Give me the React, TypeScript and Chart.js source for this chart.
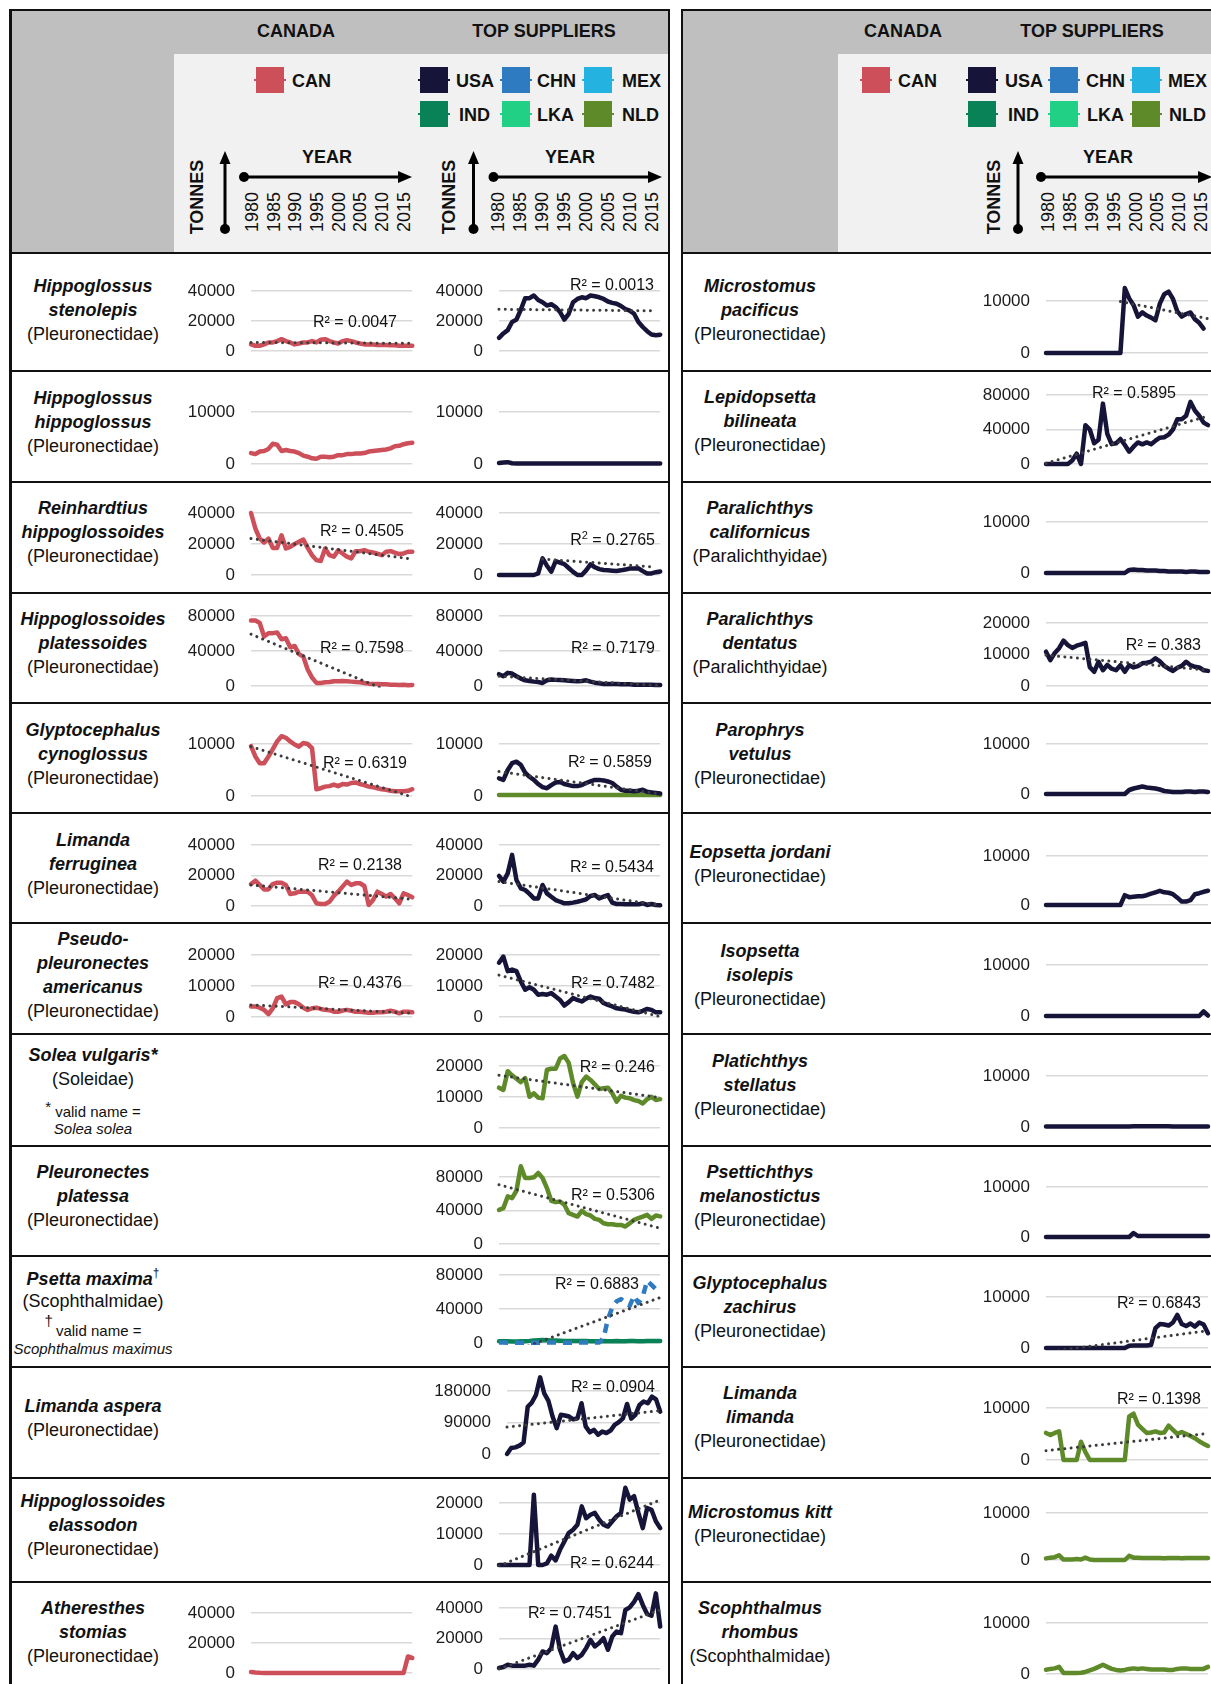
import React, { useEffect, useRef } from "react";
import { Chart, registerables } from "chart.js";

Chart.register(...registerables);

const FONT = '"Liberation Sans", Arial, Helvetica, sans-serif';

// ---------- categories ----------
const YEARS = [
  1980, 1981, 1982, 1983, 1984, 1985, 1986, 1987, 1988, 1989,
  1990, 1991, 1992, 1993, 1994, 1995, 1996, 1997, 1998, 1999,
  2000, 2001, 2002, 2003, 2004, 2005, 2006, 2007, 2008, 2009,
  2010, 2011, 2012, 2013, 2014, 2015, 2016, 2017,
];
const HEADER_YEARS = [1980, 1985, 1990, 1995, 2000, 2005, 2010, 2015];

// ---------- tick labels ----------
const T_0_10 = [0, 10000];
const T_0_10_20 = [0, 10000, 20000];
const T_0_20_40 = [0, 20000, 40000];
const T_0_40_80 = [0, 40000, 80000];
const T_0_90_180 = [0, 90000, 180000];

// ---------- series values (tonnes, 1980-2017) ----------
const HST_CAN = [4400, 3500, 3500, 4400, 5700, 5700, 6600, 7900, 6600, 5700, 4400, 5000, 5700, 5700, 6600, 5700, 7500, 7900, 6600, 5700, 5000, 6600, 7200, 6600, 5700, 5000, 4400, 4400, 4400, 4000, 4000, 4000, 3800, 3800, 3500, 3500, 3500, 3500];
const HST_USA = [8800, 11700, 13900, 19300, 20900, 27500, 35200, 35200, 37000, 34000, 32500, 30300, 31200, 29300, 26000, 20900, 24800, 32500, 34700, 35800, 35200, 37000, 36500, 35800, 34700, 33000, 32100, 31500, 30000, 28000, 26900, 24800, 19300, 16000, 13200, 11000, 10500, 10900];
const HHI_CAN = [2100, 1900, 2400, 2500, 2900, 3900, 3700, 2500, 2700, 2500, 2400, 2100, 1600, 1400, 1100, 1000, 1400, 1400, 1300, 1400, 1700, 1700, 1900, 1900, 2000, 2000, 2100, 2400, 2500, 2600, 2700, 2800, 3000, 3400, 3500, 3800, 4000, 4100];
const HHI_USA = [200, 300, 350, 150, 100, 100, 100, 100, 100, 100, 100, 100, 100, 100, 100, 100, 100, 100, 100, 100, 100, 100, 100, 100, 100, 100, 100, 100, 100, 100, 100, 100, 100, 100, 100, 100, 100, 100];
const RHI_CAN = [40000, 30000, 23500, 21000, 23500, 17500, 17500, 25600, 17100, 18200, 20000, 21400, 22900, 17500, 12800, 9600, 9000, 17100, 12800, 11800, 16000, 13900, 11800, 10700, 15400, 15400, 16000, 15000, 14500, 13700, 12800, 15000, 15400, 14400, 13500, 13900, 15000, 15000];
const RHI_USA = [0, 0, 0, 0, 0, 0, 0, 0, 0, 1000, 10700, 6000, 2100, 9000, 8000, 7000, 4500, 2000, 0, 0, 3000, 6800, 5000, 3800, 3200, 3000, 2800, 2600, 3000, 3500, 4200, 4200, 4300, 2500, 1000, 1000, 1800, 2200];
const HPL_CAN = [75000, 75000, 72000, 56500, 60400, 60400, 61200, 53500, 54600, 44200, 45800, 36500, 33500, 18800, 9600, 3500, 3500, 4200, 4600, 5400, 5400, 5800, 5400, 5000, 4600, 4200, 3500, 2700, 2300, 2300, 1900, 1900, 1500, 1500, 1200, 1500, 800, 1200];
const HPL_USA = [13500, 11200, 15000, 14200, 11200, 8500, 6500, 5800, 5000, 4600, 3500, 6500, 7500, 7000, 6800, 6500, 6100, 5800, 5400, 5800, 6500, 5000, 3800, 3100, 2300, 2300, 2300, 2300, 1900, 1900, 1900, 1500, 1500, 1500, 1500, 1500, 1200, 1200];
const GCY_CAN = [9600, 7600, 6300, 6300, 7600, 9000, 10500, 11500, 11200, 10500, 9900, 9500, 10200, 10000, 9200, 1300, 1500, 1800, 1900, 2200, 1900, 2300, 2200, 2500, 2600, 2300, 2100, 1800, 1700, 1500, 1300, 1200, 1000, 900, 900, 900, 1000, 1300];
const GCY_USA = [3400, 3100, 5000, 6300, 6600, 6000, 4500, 3700, 3100, 2300, 1700, 1500, 2100, 2600, 2700, 2300, 2100, 1900, 1900, 2100, 2500, 2800, 3100, 3100, 3000, 2800, 2500, 1800, 1200, 1000, 1000, 900, 1000, 1200, 800, 700, 600, 500];
const GCY_NLD = [200, 200, 200, 200, 200, 200, 200, 200, 200, 200, 200, 200, 200, 200, 200, 200, 200, 200, 200, 200, 200, 200, 200, 200, 200, 200, 200, 200, 200, 200, 200, 200, 200, 200, 200, 200, 200, 200];
const LFE_CAN = [14400, 16600, 13800, 10900, 10900, 14400, 15300, 15300, 13800, 7900, 8300, 9400, 9400, 9400, 7000, 1800, 1300, 1300, 2800, 6600, 9400, 12700, 16000, 13800, 14900, 14900, 13100, 700, 3900, 9400, 7900, 6100, 7900, 5000, 1800, 8300, 7200, 5700];
const LFE_USA = [19700, 16000, 21400, 33500, 17100, 11600, 10500, 7900, 5000, 5000, 13800, 8300, 6100, 3900, 2800, 1800, 1800, 2200, 2800, 3500, 4400, 6600, 7200, 5000, 6100, 7200, 2200, 1300, 1300, 1100, 1100, 1100, 1100, 1800, 700, 1300, 700, 500];
const PAM_CAN = [3400, 3400, 3000, 2300, 900, 2800, 6100, 6600, 4100, 4800, 4800, 4100, 3000, 2300, 2800, 3000, 2600, 2300, 2200, 1700, 1700, 2100, 2300, 2000, 1700, 1700, 1500, 1400, 1400, 1500, 1500, 1700, 2000, 1700, 1200, 1700, 1700, 1500];
const PAM_USA = [17500, 19500, 14800, 15300, 14800, 11500, 8800, 9600, 8800, 7200, 7400, 7200, 7700, 6600, 5500, 3700, 4800, 6100, 5500, 5000, 5900, 6600, 6100, 5900, 4500, 3900, 3400, 2800, 2600, 2400, 2000, 1700, 1500, 2000, 2600, 2300, 1500, 1500];
const SVU_NLD = [13000, 12300, 18300, 17000, 15900, 14800, 16100, 10100, 11200, 9800, 9600, 18800, 19100, 19100, 22400, 23200, 21000, 14500, 10100, 14800, 16600, 15500, 14100, 12600, 12800, 13000, 11200, 8500, 10400, 9800, 9600, 9000, 8700, 7900, 9300, 10100, 9000, 9300];
const PPL_NLD = [40800, 42800, 56800, 54800, 63600, 92800, 78800, 78800, 79600, 84800, 78800, 66800, 51600, 50000, 50800, 46800, 36800, 34800, 32800, 39600, 35600, 34000, 30000, 28800, 24800, 23600, 23600, 22800, 22800, 20800, 24800, 28800, 30800, 32800, 34800, 30000, 34000, 33000];
const PMA_CHN = [500, 500, 400, 400, 300, 300, 300, 300, 400, 400, 400, 500, 500, 500, 500, 400, 400, 400, 500, 500, 500, 500, 500, 500, 6000, 28000, 42000, 49000, 51600, 47600, 43700, 55500, 46900, 54700, 73400, 68400, 63300, 58600];
const PMA_IND = [2000, 2200, 2000, 1800, 1800, 2000, 2200, 2500, 3000, 3200, 3500, 3200, 3000, 2800, 2600, 2500, 2500, 2400, 2400, 2300, 2300, 2200, 2200, 2200, 2300, 2200, 2200, 2300, 2200, 2200, 2300, 2300, 2200, 2200, 2300, 2300, 2400, 2400];
const LAS_USA = [0, 17000, 19000, 24000, 33000, 135000, 147000, 169000, 219000, 173000, 152000, 107000, 74000, 112000, 110000, 107000, 99000, 102000, 145000, 79000, 62000, 69000, 55000, 64000, 60000, 67000, 83000, 91000, 102000, 143000, 101000, 112000, 140000, 150000, 145000, 164000, 156000, 121000];
const HEL_USA = [0, 0, 0, 0, 0, 0, 0, 0, 22700, 0, 0, 500, 3000, 1500, 4900, 7600, 10300, 11400, 13000, 18900, 15100, 16200, 16800, 14600, 13000, 12400, 14100, 15700, 16800, 24900, 21100, 22200, 16800, 11900, 18400, 17800, 14100, 11900];
const AST_CAN = [700, 300, 100, 0, 0, 0, 0, 0, 0, 0, 0, 0, 0, 0, 0, 0, 0, 0, 0, 0, 0, 0, 0, 0, 0, 0, 0, 0, 0, 0, 0, 0, 0, 0, 0, 0, 11000, 10000];
const AST_USA = [700, 1300, 2800, 2200, 2200, 2200, 2200, 2800, 2200, 6100, 11500, 10400, 13700, 27800, 12600, 5000, 6100, 10400, 7200, 9300, 13700, 19100, 14800, 17000, 20200, 12600, 21300, 24600, 23500, 38700, 40400, 44000, 49100, 42000, 36100, 35000, 49600, 27800];

const MPA_USA = [0, 0, 0, 0, 0, 0, 0, 0, 0, 0, 0, 0, 0, 0, 0, 0, 0, 0, 12500, 10500, 9200, 7000, 7800, 7200, 6800, 6300, 9500, 11300, 11800, 10400, 8000, 7000, 7500, 7800, 6500, 5800, 4700, null];
const LBI_USA = [0, 0, 0, 0, 0, 0, 4000, 12000, 0, 45000, 40000, 24000, 28000, 70000, 35000, 23000, 24000, 29000, 22000, 14300, 20100, 25000, 22800, 25000, 23000, 27000, 30500, 31000, 34000, 40000, 52000, 52000, 56000, 72000, 62000, 56000, 48000, 45000];
const PCA_USA = [0, 0, 0, 0, 0, 0, 0, 0, 0, 0, 0, 0, 0, 0, 0, 0, 0, 0, 0, 600, 700, 600, 600, 500, 500, 500, 400, 400, 300, 300, 300, 300, 200, 300, 300, 200, 200, 200];
const PDE_USA = [10900, 8200, 10500, 12000, 14400, 13000, 12100, 12800, 13200, 13700, 6000, 4500, 7700, 5000, 6700, 5500, 5000, 6600, 4500, 6600, 5900, 6300, 7200, 7400, 7700, 8800, 7800, 6400, 5500, 4800, 5800, 6400, 7700, 6600, 6100, 5900, 5000, 4800];
const PVE_USA = [0, 0, 0, 0, 0, 0, 0, 0, 0, 0, 0, 0, 0, 0, 0, 0, 0, 0, 0, 800, 1100, 1300, 1500, 1300, 1200, 1100, 900, 600, 500, 400, 400, 400, 500, 500, 400, 500, 500, 400];
const EJO_USA = [0, 0, 0, 0, 0, 0, 0, 0, 0, 0, 0, 0, 0, 0, 0, 0, 0, 0, 2000, 1600, 1700, 1800, 1800, 2000, 2300, 2600, 2900, 2600, 2500, 2200, 1500, 700, 700, 1000, 2200, 2400, 2700, 2900];
const IIS_USA = [0, 0, 0, 0, 0, 0, 0, 0, 0, 0, 0, 0, 0, 0, 0, 0, 0, 0, 0, 0, 0, 0, 0, 0, 0, 0, 0, 0, 0, 0, 0, 0, 0, 0, 0, 0, 900, 100];
const PST_USA = [100, 100, 100, 100, 100, 100, 100, 100, 100, 100, 100, 100, 100, 100, 100, 100, 100, 100, 100, 100, 150, 150, 150, 150, 150, 150, 150, 150, 150, 100, 100, 100, 100, 100, 100, 100, 100, 100];
const PME_USA = [0, 0, 0, 0, 0, 0, 0, 0, 0, 0, 0, 0, 0, 0, 0, 0, 0, 0, 0, 0, 800, 200, 200, 200, 200, 200, 200, 200, 200, 200, 200, 200, 200, 200, 200, 200, 200, 200];
const GZA_USA = [0, 0, 0, 0, 0, 0, 0, 0, 0, 0, 0, 0, 0, 0, 0, 0, 0, 0, 0, 450, 500, 500, 500, 500, 600, 3900, 4700, 4600, 4400, 5000, 6500, 4700, 4300, 4800, 4200, 5000, 4600, 2900];
const LLI_NLD = [5200, 4800, 5200, 5500, 0, 0, 0, 0, 3500, 1500, 0, 0, 0, 0, 0, 0, 0, 0, 0, 8400, 8900, 6800, 6000, 5200, 5300, 5500, 5200, 5300, 6600, 5800, 5000, 5400, 5000, 4600, 4200, 3600, 3100, 2700];
const MKI_NLD = [350, 500, 600, 1000, 100, 100, 100, 200, 100, 500, 100, 0, 0, 0, 0, 0, 0, 0, 0, 900, 500, 500, 450, 450, 400, 450, 400, 350, 400, 450, 450, 350, 400, 450, 450, 400, 450, 400];
const SRH_NLD = [850, 1000, 1100, 1400, 200, 200, 200, 200, 250, 400, 700, 1000, 1400, 1800, 1400, 1000, 800, 700, 800, 1000, 1100, 1000, 1100, 1000, 900, 900, 900, 900, 800, 800, 1000, 1100, 1100, 1000, 1000, 1000, 1000, 1400];

// ---------- linear trend lines (year, tonnes) ----------
type Pt = [number, number];
const HST_CAN_TREND: Pt[] = [[1980, 5700], [2017, 5100]];
const HST_USA_TREND: Pt[] = [[1980, 27800], [2016, 26800]];
const RHI_CAN_TREND: Pt[] = [[1980, 23500], [2017, 10300]];
const RHI_USA_TREND: Pt[] = [[1990, 10300], [2016, 5100]];
const HPL_CAN_TREND: Pt[] = [[1980, 59200], [2017, -17100]];
const HPL_USA_TREND: Pt[] = [[1980, 11200], [2017, 500]];
const GCY_CAN_TREND: Pt[] = [[1980, 9500], [2017, -200]];
const GCY_USA_TREND: Pt[] = [[1980, 4700], [2017, 400]];
const LFE_CAN_TREND: Pt[] = [[1980, 13800], [2017, 4400]];
const LFE_USA_TREND: Pt[] = [[1980, 16000], [2017, 500]];
const PAM_CAN_TREND: Pt[] = [[1980, 3900], [2017, 1200]];
const PAM_USA_TREND: Pt[] = [[1980, 13500], [2017, 100]];
const SVU_NLD_TREND: Pt[] = [[1980, 17000], [2017, 9800]];
const PPL_NLD_TREND: Pt[] = [[1980, 70800], [2017, 18800]];
const PMA_CHN_TREND: Pt[] = [[1980, -16000], [2017, 53500]];
const LAS_USA_TREND: Pt[] = [[1980, 77000], [2017, 124000]];
const HEL_USA_TREND: Pt[] = [[1980, -300], [2017, 21000]];
const AST_USA_TREND: Pt[] = [[1980, 0], [2017, 38700]];
const MPA_USA_TREND: Pt[] = [[1997, 9900], [2017, 6600]];
const LBI_USA_TREND: Pt[] = [[1980, 800], [2017, 55600]];
const PDE_USA_TREND: Pt[] = [[1980, 9800], [2017, 5000]];
const GZA_USA_TREND: Pt[] = [[1980, -800], [2017, 3400]];
const LLI_NLD_TREND: Pt[] = [[1980, 1800], [2017, 5100]];

// ---------- colours ----------
const C_CAN = "#cd4f5a";
const C_USA = "#17143a";
const C_CHN = "#2e7bc1";
const C_MEX = "#24b3e0";
const C_IND = "#0a8257";
const C_LKA = "#21cf85";
const C_NLD = "#5e8a29";

// ---------- layout ----------
const ROW_TOPS = [253, 371, 482, 593, 703, 813, 923, 1034, 1146, 1256, 1367, 1478, 1582];
const L_CAN_X: [number, number] = [251, 412.3];
const L_TOP_X: [number, number] = [499, 660.2];
const L_TOP_WIDE_X: [number, number] = [507, 660.2];
const R_X: [number, number] = [1046, 1208];
const LABEL_W = 80;

interface Line { data: (number | null)[]; color: string; dashed?: boolean }
interface Spec {
  id: string; row: number; x: [number, number];
  zeroY: number; topY: number; topVal: number; ticks: number[];
  lines: Line[]; trend?: Pt[];
  r2?: string; r2R?: number; r2Y?: number; r2Sup?: boolean;
}

const SPECS: Spec[] = [
  { id: "hst-can", row: 0, x: L_CAN_X, zeroY: 351, topY: 291, topVal: 40000, ticks: T_0_20_40, lines: [{ data: HST_CAN, color: C_CAN }], trend: HST_CAN_TREND, r2: "0.0047", r2R: 397, r2Y: 322 },
  { id: "hst-top", row: 0, x: L_TOP_X, zeroY: 351, topY: 291, topVal: 40000, ticks: T_0_20_40, lines: [{ data: HST_USA, color: C_USA }], trend: HST_USA_TREND, r2: "0.0013", r2R: 654, r2Y: 285 },
  { id: "hhi-can", row: 1, x: L_CAN_X, zeroY: 464, topY: 412, topVal: 10000, ticks: T_0_10, lines: [{ data: HHI_CAN, color: C_CAN }] },
  { id: "hhi-top", row: 1, x: L_TOP_X, zeroY: 464, topY: 412, topVal: 10000, ticks: T_0_10, lines: [{ data: HHI_USA, color: C_USA }] },
  { id: "rhi-can", row: 2, x: L_CAN_X, zeroY: 575, topY: 513, topVal: 40000, ticks: T_0_20_40, lines: [{ data: RHI_CAN, color: C_CAN }], trend: RHI_CAN_TREND, r2: "0.4505", r2R: 404, r2Y: 531 },
  { id: "rhi-top", row: 2, x: L_TOP_X, zeroY: 575, topY: 513, topVal: 40000, ticks: T_0_20_40, lines: [{ data: RHI_USA, color: C_USA }], trend: RHI_USA_TREND, r2: "0.2765", r2R: 655, r2Y: 540, r2Sup: true },
  { id: "hpl-can", row: 3, x: L_CAN_X, zeroY: 686, topY: 616, topVal: 80000, ticks: T_0_40_80, lines: [{ data: HPL_CAN, color: C_CAN }], trend: HPL_CAN_TREND, r2: "0.7598", r2R: 404, r2Y: 648 },
  { id: "hpl-top", row: 3, x: L_TOP_X, zeroY: 686, topY: 616, topVal: 80000, ticks: T_0_40_80, lines: [{ data: HPL_USA, color: C_USA }], trend: HPL_USA_TREND, r2: "0.7179", r2R: 655, r2Y: 648 },
  { id: "gcy-can", row: 4, x: L_CAN_X, zeroY: 796, topY: 744, topVal: 10000, ticks: T_0_10, lines: [{ data: GCY_CAN, color: C_CAN }], trend: GCY_CAN_TREND, r2: "0.6319", r2R: 407, r2Y: 763 },
  { id: "gcy-top", row: 4, x: L_TOP_X, zeroY: 796, topY: 744, topVal: 10000, ticks: T_0_10, lines: [{ data: GCY_NLD, color: C_NLD }, { data: GCY_USA, color: C_USA }], trend: GCY_USA_TREND, r2: "0.5859", r2R: 652, r2Y: 762 },
  { id: "lfe-can", row: 5, x: L_CAN_X, zeroY: 906, topY: 845, topVal: 40000, ticks: T_0_20_40, lines: [{ data: LFE_CAN, color: C_CAN }], trend: LFE_CAN_TREND, r2: "0.2138", r2R: 402, r2Y: 865 },
  { id: "lfe-top", row: 5, x: L_TOP_X, zeroY: 906, topY: 845, topVal: 40000, ticks: T_0_20_40, lines: [{ data: LFE_USA, color: C_USA }], trend: LFE_USA_TREND, r2: "0.5434", r2R: 654, r2Y: 867 },
  { id: "pam-can", row: 6, x: L_CAN_X, zeroY: 1017, topY: 955, topVal: 20000, ticks: T_0_10_20, lines: [{ data: PAM_CAN, color: C_CAN }], trend: PAM_CAN_TREND, r2: "0.4376", r2R: 402, r2Y: 983 },
  { id: "pam-top", row: 6, x: L_TOP_X, zeroY: 1017, topY: 955, topVal: 20000, ticks: T_0_10_20, lines: [{ data: PAM_USA, color: C_USA }], trend: PAM_USA_TREND, r2: "0.7482", r2R: 655, r2Y: 983 },
  { id: "svu-top", row: 7, x: L_TOP_X, zeroY: 1128, topY: 1066, topVal: 20000, ticks: T_0_10_20, lines: [{ data: SVU_NLD, color: C_NLD }], trend: SVU_NLD_TREND, r2: "0.246", r2R: 655, r2Y: 1067 },
  { id: "ppl-top", row: 8, x: L_TOP_X, zeroY: 1244, topY: 1177, topVal: 80000, ticks: T_0_40_80, lines: [{ data: PPL_NLD, color: C_NLD }], trend: PPL_NLD_TREND, r2: "0.5306", r2R: 655, r2Y: 1195 },
  { id: "pma-top", row: 9, x: L_TOP_X, zeroY: 1343, topY: 1275, topVal: 80000, ticks: T_0_40_80, lines: [{ data: PMA_IND, color: C_IND }, { data: PMA_CHN, color: C_CHN, dashed: true }], trend: PMA_CHN_TREND, r2: "0.6883", r2R: 639, r2Y: 1284 },
  { id: "las-top", row: 10, x: L_TOP_WIDE_X, zeroY: 1454, topY: 1391, topVal: 180000, ticks: T_0_90_180, lines: [{ data: LAS_USA, color: C_USA }], trend: LAS_USA_TREND, r2: "0.0904", r2R: 655, r2Y: 1387 },
  { id: "hel-top", row: 11, x: L_TOP_X, zeroY: 1565, topY: 1503, topVal: 20000, ticks: T_0_10_20, lines: [{ data: HEL_USA, color: C_USA }], trend: HEL_USA_TREND, r2: "0.6244", r2R: 654, r2Y: 1563 },
  { id: "ast-can", row: 12, x: L_CAN_X, zeroY: 1673, topY: 1613, topVal: 40000, ticks: T_0_20_40, lines: [{ data: AST_CAN, color: C_CAN }] },
  { id: "ast-top", row: 12, x: L_TOP_X, zeroY: 1669, topY: 1608, topVal: 40000, ticks: T_0_20_40, lines: [{ data: AST_USA, color: C_USA }], trend: AST_USA_TREND, r2: "0.7451", r2R: 612, r2Y: 1613 },

  { id: "mpa", row: 0, x: R_X, zeroY: 353, topY: 301, topVal: 10000, ticks: T_0_10, lines: [{ data: MPA_USA, color: C_USA }], trend: MPA_USA_TREND },
  { id: "lbi", row: 1, x: R_X, zeroY: 464, topY: 395, topVal: 80000, ticks: T_0_40_80, lines: [{ data: LBI_USA, color: C_USA }], trend: LBI_USA_TREND, r2: "0.5895", r2R: 1176, r2Y: 393 },
  { id: "pca", row: 2, x: R_X, zeroY: 573, topY: 522, topVal: 10000, ticks: T_0_10, lines: [{ data: PCA_USA, color: C_USA }] },
  { id: "pde", row: 3, x: R_X, zeroY: 686, topY: 623, topVal: 20000, ticks: T_0_10_20, lines: [{ data: PDE_USA, color: C_USA }], trend: PDE_USA_TREND, r2: "0.383", r2R: 1201, r2Y: 645 },
  { id: "pve", row: 4, x: R_X, zeroY: 794, topY: 744, topVal: 10000, ticks: T_0_10, lines: [{ data: PVE_USA, color: C_USA }] },
  { id: "ejo", row: 5, x: R_X, zeroY: 905, topY: 856, topVal: 10000, ticks: T_0_10, lines: [{ data: EJO_USA, color: C_USA }] },
  { id: "iis", row: 6, x: R_X, zeroY: 1016, topY: 965, topVal: 10000, ticks: T_0_10, lines: [{ data: IIS_USA, color: C_USA }] },
  { id: "pst", row: 7, x: R_X, zeroY: 1127, topY: 1076, topVal: 10000, ticks: T_0_10, lines: [{ data: PST_USA, color: C_USA }] },
  { id: "pme", row: 8, x: R_X, zeroY: 1237, topY: 1187, topVal: 10000, ticks: T_0_10, lines: [{ data: PME_USA, color: C_USA }] },
  { id: "gza", row: 9, x: R_X, zeroY: 1348, topY: 1297, topVal: 10000, ticks: T_0_10, lines: [{ data: GZA_USA, color: C_USA }], trend: GZA_USA_TREND, r2: "0.6843", r2R: 1201, r2Y: 1303 },
  { id: "lli", row: 10, x: R_X, zeroY: 1460, topY: 1408, topVal: 10000, ticks: T_0_10, lines: [{ data: LLI_NLD, color: C_NLD }], trend: LLI_NLD_TREND, r2: "0.1398", r2R: 1201, r2Y: 1399 },
  { id: "mki", row: 11, x: R_X, zeroY: 1560, topY: 1513, topVal: 10000, ticks: T_0_10, lines: [{ data: MKI_NLD, color: C_NLD }] },
  { id: "srh", row: 12, x: R_X, zeroY: 1674, topY: 1623, topVal: 10000, ticks: T_0_10, lines: [{ data: SRH_NLD, color: C_NLD }] },
];

type LabelRow = { cy: number; lines: [string, "n" | "f"][] };
const FAM_P = "(Pleuronectidae)";
const LEFT_LABELS: (LabelRow | null)[] = [
  { cy: 310, lines: [["Hippoglossus", "n"], ["stenolepis", "n"], [FAM_P, "f"]] },
  { cy: 422, lines: [["Hippoglossus", "n"], ["hippoglossus", "n"], [FAM_P, "f"]] },
  { cy: 532, lines: [["Reinhardtius", "n"], ["hippoglossoides", "n"], [FAM_P, "f"]] },
  { cy: 643, lines: [["Hippoglossoides", "n"], ["platessoides", "n"], [FAM_P, "f"]] },
  { cy: 754, lines: [["Glyptocephalus", "n"], ["cynoglossus", "n"], [FAM_P, "f"]] },
  { cy: 864, lines: [["Limanda", "n"], ["ferruginea", "n"], [FAM_P, "f"]] },
  { cy: 975, lines: [["Pseudo-", "n"], ["pleuronectes", "n"], ["americanus", "n"], [FAM_P, "f"]] },
  null,
  { cy: 1196, lines: [["Pleuronectes", "n"], ["platessa", "n"], [FAM_P, "f"]] },
  null,
  { cy: 1418, lines: [["Limanda aspera", "n"], [FAM_P, "f"]] },
  { cy: 1525, lines: [["Hippoglossoides", "n"], ["elassodon", "n"], [FAM_P, "f"]] },
  { cy: 1632, lines: [["Atheresthes", "n"], ["stomias", "n"], [FAM_P, "f"]] },
];
const RIGHT_LABELS: LabelRow[] = [
  { cy: 310, lines: [["Microstomus", "n"], ["pacificus", "n"], [FAM_P, "f"]] },
  { cy: 421, lines: [["Lepidopsetta", "n"], ["bilineata", "n"], [FAM_P, "f"]] },
  { cy: 532, lines: [["Paralichthys", "n"], ["californicus", "n"], ["(Paralichthyidae)", "f"]] },
  { cy: 643, lines: [["Paralichthys", "n"], ["dentatus", "n"], ["(Paralichthyidae)", "f"]] },
  { cy: 754, lines: [["Parophrys", "n"], ["vetulus", "n"], [FAM_P, "f"]] },
  { cy: 864, lines: [["Eopsetta jordani", "n"], [FAM_P, "f"]] },
  { cy: 975, lines: [["Isopsetta", "n"], ["isolepis", "n"], [FAM_P, "f"]] },
  { cy: 1085, lines: [["Platichthys", "n"], ["stellatus", "n"], [FAM_P, "f"]] },
  { cy: 1196, lines: [["Psettichthys", "n"], ["melanostictus", "n"], [FAM_P, "f"]] },
  { cy: 1307, lines: [["Glyptocephalus", "n"], ["zachirus", "n"], [FAM_P, "f"]] },
  { cy: 1417, lines: [["Limanda", "n"], ["limanda", "n"], [FAM_P, "f"]] },
  { cy: 1524, lines: [["Microstomus kitt", "n"], [FAM_P, "f"]] },
  { cy: 1632, lines: [["Scophthalmus", "n"], ["rhombus", "n"], ["(Scophthalmidae)", "f"]] },
];

// ---------- chart component ----------
function MiniChart({ s }: { s: Spec }) {
  const ref = useRef<HTMLCanvasElement | null>(null);
  const rowTop = ROW_TOPS[s.row];
  const rowBottom = s.row + 1 < ROW_TOPS.length ? ROW_TOPS[s.row + 1] : 1700;
  const plotLeft = Math.round(s.x[0]);
  const cLeft = plotLeft - LABEL_W;
  const W = Math.ceil(s.x[1] + 6 - cLeft);
  const cTop = rowTop + 3;
  const cBottom = rowBottom - 2;
  const H = cBottom - cTop;

  useEffect(() => {
    const el = ref.current;
    if (!el) return;
    const areaTop = rowTop + 8;
    const yMax = (s.topVal * (s.zeroY - areaTop)) / (s.zeroY - s.topY);
    const datasets: any[] = [];
    if (s.trend) {
      datasets.push({
        data: s.trend.map(([x, y]) => ({ x, y })),
        borderColor: "#3c3c3c",
        borderWidth: 3,
        borderDash: [0.01, 6.3],
        borderCapStyle: "round",
        pointRadius: 0,
        tension: 0,
        clip: { left: 2, right: 2, top: 2, bottom: 1.5 },
      });
    }
    [...s.lines].reverse().forEach((l) => {
      datasets.push({
        data: l.data.map((v, i) => ({ x: YEARS[i], y: v })),
        borderColor: l.color,
        borderWidth: 4.5,
        borderDash: l.dashed ? [9, 7] : [],
        borderCapStyle: l.dashed ? "butt" : "round",
        borderJoinStyle: "round",
        pointRadius: 0,
        tension: 0,
        spanGaps: false,
        clip: false,
      });
    });
    const chart = new Chart(el, {
      type: "line",
      data: { datasets },
      options: {
        animation: false,
        responsive: false,
        devicePixelRatio: 1,
        events: [],
        layout: {
          padding: {
            left: 0,
            right: W - (s.x[1] - cLeft),
            top: areaTop - cTop,
            bottom: cBottom - s.zeroY,
          },
        },
        plugins: { legend: { display: false }, tooltip: { enabled: false } },
        scales: {
          x: { type: "linear", min: 1980, max: 2017, display: false },
          y: {
            type: "linear",
            min: 0,
            max: yMax,
            afterBuildTicks: (sc: any) => {
              sc.ticks = s.ticks.map((v) => ({ value: v }));
            },
            afterFit: (sc: any) => {
              sc.width = LABEL_W;
              sc.paddingTop = 0;
              sc.paddingBottom = 0;
            },
            ticks: {
              padding: 16,
              autoSkip: false,
              color: "#1c1c1c",
              font: { family: FONT, size: 17 },
              callback: (v: any) => String(v),
            },
            grid: { color: "#d9d9d9", lineWidth: 1.6, drawTicks: false },
            border: { display: false },
          },
        },
      } as any,
    });
    return () => chart.destroy();
  }, []);

  return (
    <canvas
      ref={ref}
      width={W}
      height={H}
      style={{ position: "absolute", left: cLeft, top: cTop, width: W, height: H }}
    />
  );
}

// ---------- small helpers ----------
function Box({ l, t, w, h, bg }: { l: number; t: number; w: number; h: number; bg: string }) {
  return <div style={{ position: "absolute", left: l, top: t, width: w, height: h, background: bg }} />;
}

function CText({ cx, cy, size, bold, italic, children, w = 260 }: any) {
  return (
    <div
      style={{
        position: "absolute",
        left: cx - w / 2,
        width: w,
        top: cy - 12,
        height: 24,
        lineHeight: "24px",
        textAlign: "center",
        fontSize: size,
        fontWeight: bold ? 700 : 400,
        fontStyle: italic ? "italic" : "normal",
        whiteSpace: "nowrap",
        color: "#111",
      }}
    >
      {children}
    </div>
  );
}

function RotText({ cx, cy, size, bold, children }: any) {
  return (
    <div
      style={{
        position: "absolute",
        left: cx - 50,
        top: cy - 11,
        width: 100,
        height: 22,
        lineHeight: "22px",
        textAlign: "center",
        fontSize: size,
        fontWeight: bold ? 700 : 400,
        transform: "rotate(-90deg)",
        whiteSpace: "nowrap",
        color: "#111",
      }}
    >
      {children}
    </div>
  );
}

function LegendItem({ sx, sy, tx, color, label }: any) {
  return (
    <>
      <div style={{ position: "absolute", left: sx - 2, top: sy + 12, width: 32, height: 2, background: color }} />
      <div style={{ position: "absolute", left: sx, top: sy, width: 28, height: 26, background: color }} />
      <div
        style={{
          position: "absolute",
          left: tx,
          top: sy + 1,
          height: 26,
          lineHeight: "26px",
          fontSize: 18,
          fontWeight: 700,
          whiteSpace: "nowrap",
          color: "#111",
        }}
      >
        {label}
      </div>
    </>
  );
}

function Labels({ cx, rows }: { cx: number; rows: (LabelRow | null)[] }) {
  const out: React.ReactNode[] = [];
  rows.forEach((r, i) => {
    if (!r) return;
    const n = r.lines.length;
    r.lines.forEach(([t, k], j) => {
      out.push(
        <CText key={i + "-" + j} cx={cx} cy={r.cy + (j - (n - 1) / 2) * 24} size={18} bold={k === "n"} italic={k === "n"}>
          {t}
        </CText>
      );
    });
  });
  return <>{out}</>;
}

function R2Label({ s }: { s: Spec }) {
  if (!s.r2 || s.r2R === undefined || s.r2Y === undefined) return null;
  return (
    <div
      style={{
        position: "absolute",
        left: s.r2R - 200,
        width: 200,
        top: s.r2Y - 10,
        height: 20,
        lineHeight: "20px",
        textAlign: "right",
        fontSize: 16,
        whiteSpace: "nowrap",
        color: "#111",
      }}
    >
      {s.r2Sup ? (
        <>
          R<span style={{ fontSize: 11, position: "relative", top: -6 }}>2</span> = {s.r2}
        </>
      ) : (
        <>R² = {s.r2}</>
      )}
    </div>
  );
}

function AxisGlyph({ vx, hx0, hx1, yearStart, yearStep, yearCx, tonCx }: any) {
  return (
    <>
      <RotText cx={tonCx} cy={197} size={18} bold>
        TONNES
      </RotText>
      <CText cx={yearCx} cy={157} size={18} bold>
        YEAR
      </CText>
      {HEADER_YEARS.map((y, i) => (
        <RotText key={y} cx={yearStart + i * yearStep} cy={212} size={18}>
          {String(y)}
        </RotText>
      ))}
      <svg style={{ position: "absolute", left: 0, top: 0, overflow: "visible" }} width={1} height={1}>
        <line x1={vx} y1={229} x2={vx} y2={160} stroke="#000" strokeWidth={3} />
        <polygon points={`${vx},151 ${vx - 5.5},164 ${vx + 5.5},164`} fill="#000" />
        <circle cx={vx} cy={229} r={5} fill="#000" />
        <circle cx={hx0} cy={177} r={5} fill="#000" />
        <line x1={hx0} y1={177} x2={hx1 - 10} y2={177} stroke="#000" strokeWidth={3} />
        <polygon points={`${hx1},177 ${hx1 - 14},171 ${hx1 - 14},183`} fill="#000" />
      </svg>
    </>
  );
}

export default function App() {
  const leftSpecs = SPECS;
  return (
    <div
      style={{
        position: "fixed",
        left: 0,
        top: 0,
        width: 1211,
        height: 1684,
        overflow: "hidden",
        background: "#ffffff",
        fontFamily: FONT,
        color: "#111",
      }}
    >
      {/* header backgrounds */}
      <Box l={9} t={9} w={661} h={244} bg="#bfbfbf" />
      <Box l={174} t={54} w={495} h={199} bg="#f1f1f1" />
      <Box l={681} t={9} w={540} h={244} bg="#bfbfbf" />
      <Box l={838} t={54} w={380} h={199} bg="#f1f1f1" />

      {/* panel borders */}
      <Box l={9} t={9} w={661} h={2} bg="#111" />
      <Box l={9} t={9} w={3} h={1700} bg="#111" />
      <Box l={668} t={9} w={2} h={1700} bg="#111" />
      <Box l={681} t={9} w={540} h={2} bg="#111" />
      <Box l={681} t={9} w={2} h={1700} bg="#111" />
      {ROW_TOPS.map((y) => (
        <React.Fragment key={y}>
          <Box l={9} t={y - 1} w={661} h={2} bg="#111" />
          <Box l={681} t={y - 1} w={540} h={2} bg="#111" />
        </React.Fragment>
      ))}

      {/* header titles */}
      <CText cx={296} cy={31} size={18} bold>CANADA</CText>
      <CText cx={544} cy={31} size={18} bold>TOP SUPPLIERS</CText>
      <CText cx={903} cy={31} size={18} bold>CANADA</CText>
      <CText cx={1092} cy={31} size={18} bold>TOP SUPPLIERS</CText>

      {/* legends */}
      <LegendItem sx={256} sy={67} tx={292} color={C_CAN} label="CAN" />
      <LegendItem sx={420} sy={67} tx={456} color={C_USA} label="USA" />
      <LegendItem sx={502} sy={67} tx={537} color={C_CHN} label="CHN" />
      <LegendItem sx={584} sy={67} tx={622} color={C_MEX} label="MEX" />
      <LegendItem sx={420} sy={101} tx={459} color={C_IND} label="IND" />
      <LegendItem sx={502} sy={101} tx={537} color={C_LKA} label="LKA" />
      <LegendItem sx={584} sy={101} tx={622} color={C_NLD} label="NLD" />

      <LegendItem sx={862} sy={67} tx={898} color={C_CAN} label="CAN" />
      <LegendItem sx={968} sy={67} tx={1005} color={C_USA} label="USA" />
      <LegendItem sx={1050} sy={67} tx={1086} color={C_CHN} label="CHN" />
      <LegendItem sx={1132} sy={67} tx={1168} color={C_MEX} label="MEX" />
      <LegendItem sx={968} sy={101} tx={1008} color={C_IND} label="IND" />
      <LegendItem sx={1050} sy={101} tx={1087} color={C_LKA} label="LKA" />
      <LegendItem sx={1132} sy={101} tx={1169} color={C_NLD} label="NLD" />

      {/* axis key glyphs */}
      <AxisGlyph vx={225} hx0={244} hx1={412} yearStart={252} yearStep={21.67} yearCx={327} tonCx={197} />
      <AxisGlyph vx={473.5} hx0={493.5} hx1={662} yearStart={497.8} yearStep={21.97} yearCx={570} tonCx={449} />
      <AxisGlyph vx={1018} hx0={1041} hx1={1212} yearStart={1047.8} yearStep={21.93} yearCx={1108} tonCx={994} />

      {/* species labels */}
      <Labels cx={93} rows={LEFT_LABELS} />
      <Labels cx={760} rows={RIGHT_LABELS} />

      {/* Solea vulgaris special label */}
      <CText cx={93} cy={1055} size={18} bold italic>Solea vulgaris*</CText>
      <CText cx={93} cy={1079} size={18}>(Soleidae)</CText>
      <CText cx={93} cy={1112} size={15}>
        <span style={{ position: "relative", top: -5, marginRight: 4 }}>*</span>valid name =
      </CText>
      <CText cx={93} cy={1129} size={15} italic>Solea solea</CText>

      {/* Psetta maxima special label */}
      <CText cx={93} cy={1279} size={18} bold italic>
        Psetta maxima<span style={{ fontSize: 12, fontStyle: "normal", fontWeight: 400, position: "relative", top: -8 }}>†</span>
      </CText>
      <CText cx={93} cy={1301} size={18}>(Scophthalmidae)</CText>
      <CText cx={93} cy={1331} size={15}>
        <span style={{ position: "relative", top: -10, marginRight: 3 }}>†</span>valid name =
      </CText>
      <CText cx={93} cy={1349} size={15} italic>Scophthalmus maximus</CText>

      {/* charts */}
      {leftSpecs.map((s) => (
        <MiniChart key={s.id} s={s} />
      ))}
      {leftSpecs.map((s) => (
        <R2Label key={"r2-" + s.id} s={s} />
      ))}
    </div>
  );
}
